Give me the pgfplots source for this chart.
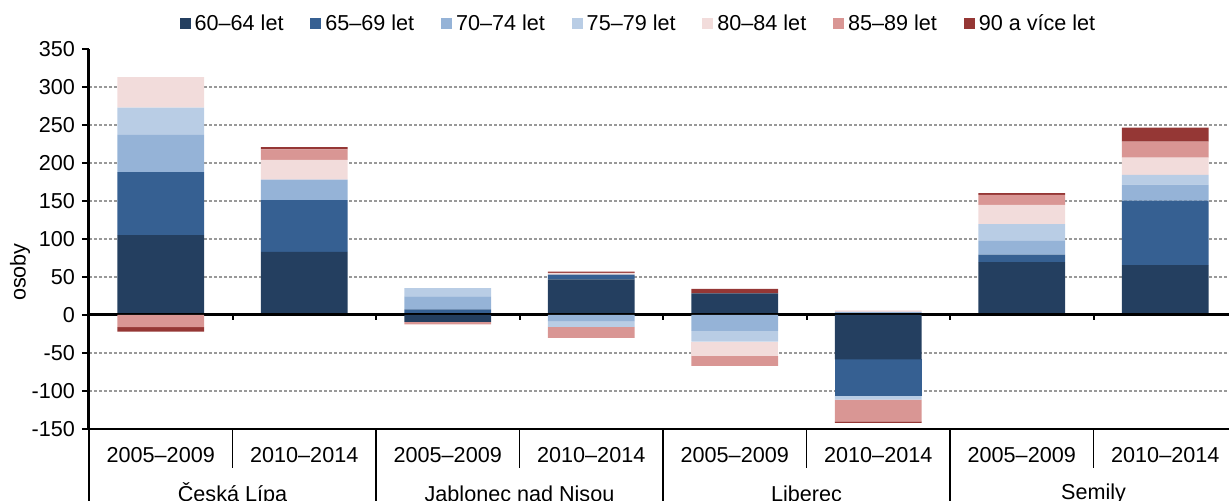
\documentclass[border=0pt]{standalone}
\usepackage{fontspec}
\setmainfont{Liberation Sans}
\usepackage{pgfplots}
\usepackage{pgfplotstable}
\pgfplotsset{compat=1.18}
\usetikzlibrary{calc}

\definecolor{c6064}{HTML}{243F60}
\definecolor{c6569}{HTML}{366092}
\definecolor{c7074}{HTML}{95B3D7}
\definecolor{c7579}{HTML}{B9CDE5}
\definecolor{c8084}{HTML}{F2DCDB}
\definecolor{c8589}{HTML}{D99694}
\definecolor{c90}{HTML}{953735}

% bars: 0 CL 05-09, 1 CL 10-14, 2 JN 05-09, 3 JN 10-14, 4 LB 05-09, 5 LB 10-14, 6 SM 05-09, 7 SM 10-14
% positive parts (stacked up from zero)
\pgfplotstableread{
x  a6064 a6569 a7074 a7579 a8084 a8589 a90
0  105   83    49    36    40    0     0
1  83    68    27    0     26    14    3
2  0     7.5   17    11    0     0     0
3  47    6     0     0     2.5   0     1.5
4  28.5  0     0     0     0     0     6
5  0     0     4     0     2     0     0
6  69.5  10    18    22    25.5  13    2.5
7  65.5  85    21    13    22.5  21    18.5
}\posdata
% negative parts (stacked down from zero)
\pgfplotstableread{
x  a6064 a6569 a7074 a7579 a8084 a8589 a90
0  0     0     0     0     0     -16   -6
1  0     0     0     0     0     0     0
2  -9    0     0     0     0     -3.5  0
3  0     0     -8    -7.5  0     -14.5 0
4  0     0     -21   -14   -19   -13   0
5  -58.5 -48   0     -5    0     -28.5 -2
6  0     0     0     0     0     0     0
7  0     0     0     0     0     0     0
}\negdata

\newcommand{\lblfont}{\fontsize{10.8}{12}\selectfont}

\pgfplotsset{
  base/.style={
    width=574pt, height=190pt, scale only axis,
    xmin=-0.5, xmax=7.5, ymin=-150, ymax=350,
    ybar stacked, bar width=0.606, clip=false,
  },
  sq/.style={legend image code/.code={\fill[##1] (-2.5pt,-2.75pt) rectangle (3pt,2.75pt);}},
}

\begin{document}
\begin{tikzpicture}
\begin{axis}[base, name=ax,
  axis x line*=bottom, axis y line*=left,
  x axis line style={line width=1pt},
  y axis line style={line width=1.5pt},
  xtick=\empty,
  ytick={-100,-50,...,300},
  extra y ticks={-150,350}, extra y tick style={grid=none},
  ymajorgrids,
  grid style={gray!80, line width=0.6pt, dash pattern=on 1.5pt off 1pt},
  tick align=outside, major tick length=3.5pt,
  tick style={black, line width=1pt},
  yticklabel style={font=\lblfont},
  /pgf/number format/assume math mode=true,
  ylabel={osoby},
  ylabel style={at={(axis description cs:-0.060,0.413)}, anchor=center, font=\lblfont},
  legend style={at={(axis description cs:0.4795,1.0658)}, anchor=center,
    draw=none, fill=none, legend columns=-1, font=\lblfont,
    /tikz/every even column/.append style={column sep=11.4pt}},
]
\addplot[fill=c6064, draw=none, sq] table[x=x, y=a6064] {\posdata};
\addplot[fill=c6569, draw=none, sq] table[x=x, y=a6569] {\posdata};
\addplot[fill=c7074, draw=none, sq] table[x=x, y=a7074] {\posdata};
\addplot[fill=c7579, draw=none, sq] table[x=x, y=a7579] {\posdata};
\addplot[fill=c8084, draw=none, sq] table[x=x, y=a8084] {\posdata};
\addplot[fill=c8589, draw=none, sq] table[x=x, y=a8589] {\posdata};
\addplot[fill=c90, draw=none, sq] table[x=x, y=a90] {\posdata};
\legend{60–64 let, 65–69 let, 70–74 let, 75–79 let, 80–84 let, 85–89 let, 90 a více let}
\end{axis}

\begin{axis}[base, hide axis]
\addplot[fill=c6064, draw=none] table[x=x, y=a6064] {\negdata};
\addplot[fill=c6569, draw=none] table[x=x, y=a6569] {\negdata};
\addplot[fill=c7074, draw=none] table[x=x, y=a7074] {\negdata};
\addplot[fill=c7579, draw=none] table[x=x, y=a7579] {\negdata};
\addplot[fill=c8084, draw=none] table[x=x, y=a8084] {\negdata};
\addplot[fill=c8589, draw=none] table[x=x, y=a8589] {\negdata};
\addplot[fill=c90, draw=none] table[x=x, y=a90] {\negdata};

% zero line with small ticks between bars
\draw[line width=1.5pt] (axis cs:-0.5,0) -- (axis cs:7.5,0);
\pgfplotsinvokeforeach{0.5,1.5,...,7.5}{
  \draw[line width=1pt] (axis cs:#1,0) -- ++(0pt,-2.6pt);
}
% two-level category axis
\draw[line width=0.8pt] (axis cs:-0.5,-150) -- ++(0pt,-40pt);
\pgfplotsinvokeforeach{0.5,2.5,4.5,6.5}{
  \draw[line width=0.8pt] (axis cs:#1,-150) -- ++(0pt,-19.5pt);
}
\pgfplotsinvokeforeach{1.5,3.5,5.5,7.5}{
  \draw[line width=0.8pt] (axis cs:#1,-150) -- ++(0pt,-40pt);
}
\node[font=\lblfont] at ($(axis cs:0,-150)+(0pt,-13pt)$) {2005–2009};
\node[font=\lblfont] at ($(axis cs:1,-150)+(0pt,-13pt)$) {2010–2014};
\node[font=\lblfont] at ($(axis cs:2,-150)+(0pt,-13pt)$) {2005–2009};
\node[font=\lblfont] at ($(axis cs:3,-150)+(0pt,-13pt)$) {2010–2014};
\node[font=\lblfont] at ($(axis cs:4,-150)+(0pt,-13pt)$) {2005–2009};
\node[font=\lblfont] at ($(axis cs:5,-150)+(0pt,-13pt)$) {2010–2014};
\node[font=\lblfont] at ($(axis cs:6,-150)+(0pt,-13pt)$) {2005–2009};
\node[font=\lblfont] at ($(axis cs:7,-150)+(0pt,-13pt)$) {2010–2014};
\node[font=\lblfont] at ($(axis cs:0.5,-150)+(0pt,-32.5pt)$) {Česká Lípa};
\node[font=\lblfont] at ($(axis cs:2.5,-150)+(0pt,-32.5pt)$) {Jablonec nad Nisou};
\node[font=\lblfont] at ($(axis cs:4.5,-150)+(0pt,-32.5pt)$) {Liberec};
\node[font=\lblfont] at ($(axis cs:6.5,-150)+(0pt,-32.5pt)$) {Semily};
\end{axis}

\pgfresetboundingbox
\path[use as bounding box] ($(ax.south west)+(-44.5pt,-36pt)$) rectangle ($(ax.south west)+(570pt,214.5pt)$);
\end{tikzpicture}
\end{document}
